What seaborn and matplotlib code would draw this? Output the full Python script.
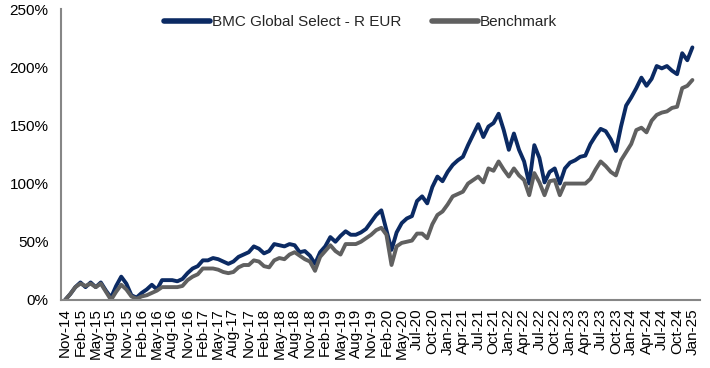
import pandas as pd
import matplotlib
matplotlib.use("Agg")
import matplotlib.pyplot as plt
import seaborn as sns
from matplotlib.ticker import FuncFormatter

# x tick labels, one every 3 points
tick_labels = [
    "Nov-14", "Feb-15", "May-15", "Aug-15", "Nov-15", "Feb-16", "May-16", "Aug-16",
    "Nov-16", "Feb-17", "May-17", "Aug-17", "Nov-17", "Feb-18", "May-18", "Aug-18",
    "Nov-18", "Feb-19", "May-19", "Aug-19", "Nov-19", "Feb-20", "May-20", "Jul-20",
    "Oct-20", "Jan-21", "Apr-21", "Jul-21", "Oct-21", "Jan-22", "Apr-22", "Jul-22",
    "Oct-22", "Jan-23", "Apr-23", "Jul-23", "Oct-23", "Jan-24", "Apr-24", "Jul-24",
    "Oct-24", "Jan-25",
]

# cumulative performance in %
fund = [
    0, 5, 11, 15, 11, 15, 11, 15, 8, 2,
    12, 20, 14, 4, 2, 6, 9, 13, 9, 17,
    17, 17, 16, 18, 23, 27, 29, 34, 34, 36,
    35, 33, 31, 33, 37, 39, 41, 46, 44, 40,
    42, 48, 47, 46, 48, 47, 41, 42, 38, 31,
    41, 46, 54, 50, 55, 59, 56, 56, 58, 61,
    67, 73, 77, 60, 43, 58, 66, 70, 72, 85,
    89, 83, 97, 106, 102, 110, 116, 120, 123, 133,
    142, 151, 140, 149, 152, 160, 146, 129, 143, 129,
    119, 100, 133, 122, 101, 110, 113, 100, 113, 118,
    120, 123, 124, 134, 141, 147, 145, 138, 128, 149,
    167, 174, 182, 191, 184, 190, 201, 199, 201, 197,
    194, 212, 206, 217,
]

benchmark = [
    0, 5, 11, 14, 12, 14, 11, 14, 7, 0,
    7, 13, 9, 3, 1, 3, 4, 6, 8, 11,
    11, 11, 11, 12, 17, 20, 22, 27, 27, 27,
    26, 24, 23, 24, 28, 30, 30, 34, 33, 29,
    28, 34, 36, 35, 39, 41, 38, 35, 33, 25,
    37, 42, 47, 42, 39, 48, 48, 48, 50, 53,
    56, 60, 62, 56, 30, 46, 49, 50, 51, 57,
    57, 53, 65, 73, 76, 82, 89, 91, 93, 100,
    103, 106, 101, 113, 111, 119, 112, 106, 113, 107,
    103, 90, 109, 101, 90, 102, 103, 90, 100, 100,
    100, 100, 100, 104, 112, 119, 115, 110, 107, 120,
    127, 134, 146, 148, 144, 154, 159, 161, 162, 165,
    166, 182, 184, 189,
]

series_names = ["BMC Global Select - R EUR", "Benchmark"]
palette = {series_names[0]: "#0b2a63", series_names[1]: "#606060"}

sns.set_theme(style="white")
plt.rcParams["font.family"] = ["Liberation Sans", "DejaVu Sans"]

df = pd.concat([
    pd.DataFrame({"period": range(len(fund)), "value": fund, "series": series_names[0]}),
    pd.DataFrame({"period": range(len(benchmark)), "value": benchmark, "series": series_names[1]}),
])

fig = plt.figure(figsize=(7.1, 3.68), dpi=100)
ax = fig.add_axes([0.086, 0.185, 0.9, 0.7905])

sns.lineplot(data=df, x="period", y="value", hue="series", palette=palette,
             hue_order=series_names, linewidth=2.8, ax=ax)

ax.set_xlim(-0.8, 124.5)
ax.set_ylim(0, 250)
ax.set_yticks(range(0, 251, 50))
ax.yaxis.set_major_formatter(FuncFormatter(lambda v, p: f"{int(v)}%"))
ax.set_xticks(range(0, 3 * len(tick_labels), 3))
ax.set_xticklabels(tick_labels, rotation=90)
ax.set_xlabel("")
ax.set_ylabel("")

for side in ["top", "right"]:
    ax.spines[side].set_visible(False)
for side in ["left", "bottom"]:
    ax.spines[side].set_color("#868686")
    ax.spines[side].set_linewidth(1.5)

ax.tick_params(axis="both", which="major", direction="out", color="#868686",
               width=1.2, length=4, labelsize=11, labelcolor="#000000")
ax.tick_params(axis="y", pad=5)
ax.tick_params(axis="x", pad=2)

handles, labels = ax.get_legend_handles_labels()
for h in handles:
    h.set_linewidth(4)
ax.legend(handles, labels, loc="center", bbox_to_anchor=(0.508, 0.94),
          bbox_transform=fig.transFigure, ncol=2, frameon=False, fontsize=11,
          handlelength=3.0, handletextpad=0.15, columnspacing=2.0)

fig.savefig("out.png", dpi=100)
